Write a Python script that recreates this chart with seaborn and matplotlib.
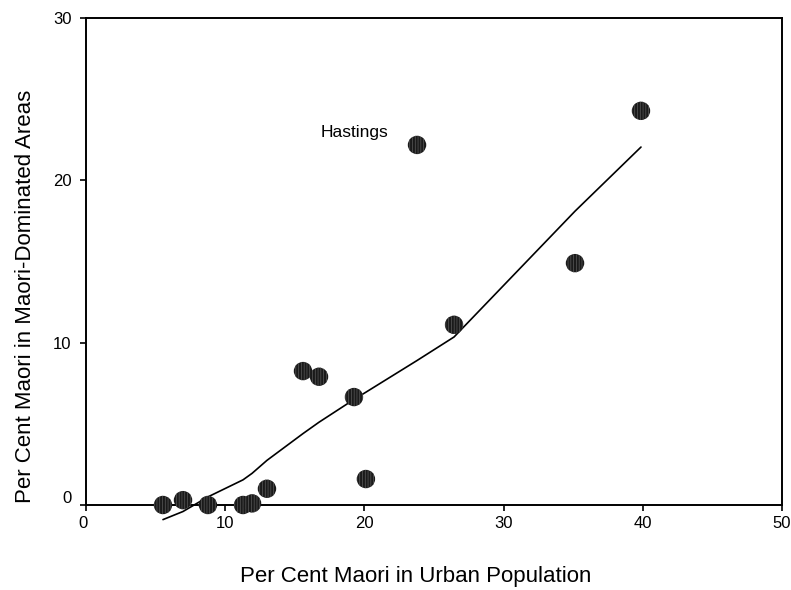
import matplotlib
matplotlib.use("Agg")
import matplotlib.pyplot as plt
import matplotlib.transforms as mtransforms
import seaborn as sns
import pandas as pd

# Data
urban_pct = [5.53, 6.97, 8.76, 11.28, 11.93, 13.0, 15.59, 16.74, 19.25, 20.11, 23.78, 26.44, 35.13, 39.87]
dominated_pct = [0.0, 0.3, 0.0, 0.0, 0.1, 1.0, 8.25, 7.9, 6.65, 1.6, 22.18, 11.1, 14.9, 24.28]
fit_x = [5.53, 6.97, 8.76, 11.28, 11.93, 13.0, 15.59, 16.74, 19.25, 20.11, 23.78, 26.44, 35.13, 39.87]
fit_y = [-0.9, -0.4, 0.5, 1.55, 1.95, 2.75, 4.4, 5.1, 6.5, 6.95, 8.9, 10.35, 18.1, 22.05]
x_ticks = [0, 10, 20, 30, 40, 50]
y_ticks = [0, 10, 20, 30]
label_text = "Hastings"
label_pos = (16.89, 22.67)

sns.set_style("white")
plt.rcParams["font.family"] = ["Liberation Sans", "DejaVu Sans"]
plt.rcParams["hatch.linewidth"] = 0.5

pts = pd.DataFrame({"x": urban_pct, "y": dominated_pct})
fit = pd.DataFrame({"x": fit_x, "y": fit_y})

fig = plt.figure(figsize=(7.91, 5.90), dpi=100)
ax = fig.add_axes([86 / 791, 1 - 505 / 590, (782 - 86) / 791, (505 - 18) / 590])

sns.lineplot(data=fit, x="x", y="y", ax=ax, color="black", linewidth=1.2,
             sort=False, estimator=None, clip_on=False, zorder=3)
sns.scatterplot(data=pts, x="x", y="y", ax=ax, marker="o", s=175,
                facecolor="#1a1a1a", edgecolor="#5a5a5a", linewidth=0,
                hatch="||||||", clip_on=False, zorder=4)

ax.set_xlim(0, 50)
ax.set_ylim(0, 30)
ax.set_xticks(x_ticks)
ax.set_yticks(y_ticks)
ax.set_xticklabels([str(v) for v in x_ticks])
ax.set_yticklabels([str(v) for v in y_ticks])

for side in ["left", "bottom", "top", "right"]:
    ax.spines[side].set_visible(True)
    ax.spines[side].set_color("black")
    ax.spines[side].set_linewidth(1.4)

ax.tick_params(axis="x", direction="out", length=4, width=1.2, pad=4,
               labelsize=12, colors="black", bottom=True)
ax.tick_params(axis="y", direction="out", length=4.5, width=1.2, pad=6,
               labelsize=12, colors="black", left=True)

ax.set_xlabel("Per Cent Maori in Urban Population", fontsize=16, color="black")
ax.set_ylabel("Per Cent Maori in Maori-Dominated Areas", fontsize=16, color="black")
ax.xaxis.set_label_coords(0.474, -0.125)
ax.yaxis.set_label_coords(-0.072, 0.429)

ax.text(label_pos[0], label_pos[1], label_text, fontsize=12.5, ha="left",
        va="baseline", color="black")

# shift the "0" tick labels slightly like the reference
ylab0 = ax.get_yticklabels()[0]
ylab0.set_transform(ylab0.get_transform() + mtransforms.ScaledTranslation(0, 8 / 100, fig.dpi_scale_trans))
xlab0 = ax.get_xticklabels()[0]
xlab0.set_transform(xlab0.get_transform() + mtransforms.ScaledTranslation(-3 / 100, 0, fig.dpi_scale_trans))

fig.savefig("out.png", dpi=100)
